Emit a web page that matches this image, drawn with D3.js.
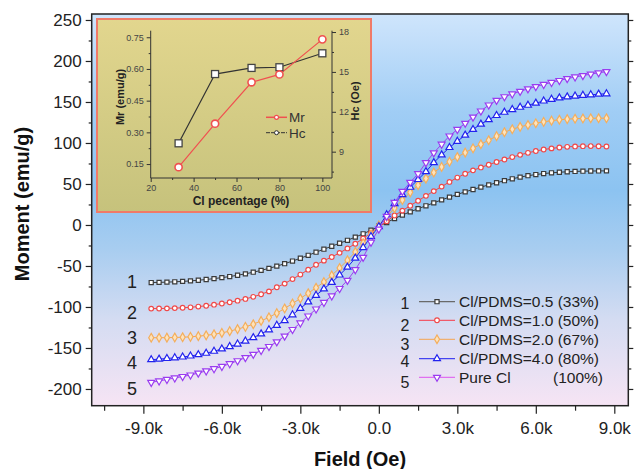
<!DOCTYPE html>
<html>
<head>
<meta charset="utf-8">
<script src="https://cdn.jsdelivr.net/npm/d3@7"></script>
<style>
body { margin: 0; background: #fff; }
svg { display: block; font-family: "Liberation Sans", Arial, sans-serif; }
</style>
</head>
<body>
<svg id="chart" width="634" height="469"></svg>
<script>
// field values (Oe) shared by all loops
var field = [-8700, -8400, -8100, -7800, -7500, -7200, -6900, -6600, -6300, -6000,
  -5700, -5400, -5100, -4800, -4500, -4200, -3900, -3600, -3300, -3000,
  -2700, -2400, -2100, -1800, -1500, -1200, -900, -600, -300, 0,
  300, 600, 900, 1200, 1500, 1800, 2100, 2400, 2700, 3000,
  3300, 3600, 3900, 4200, 4500, 4800, 5100, 5400, 5700, 6000,
  6300, 6600, 6900, 7200, 7500, 7800, 8100, 8400, 8700];

// moment (emu/g)
var m1 = [-70.2, -70.0, -69.7, -69.3, -68.8, -68.2, -67.4, -66.5, -65.4, -64.2,
  -62.9, -61.3, -59.6, -57.6, -55.4, -52.9, -50.2, -47.2, -44.0, -40.6,
  -37.0, -33.2, -29.5, -25.9, -22.3, -18.7, -14.8, -10.8, -6.4, -1.5,
  3.0, 7.8, 12.2, 16.0, 19.8, 23.4, 27.0, 30.6, 34.0, 37.3,
  40.4, 43.3, 46.2, 48.9, 51.5, 54.0, 56.3, 58.4, 60.1, 61.5,
  62.7, 63.6, 64.3, 64.9, 65.3, 65.6, 65.8, 65.9, 66.0];
var m2 = [-102.0, -101.9, -101.7, -101.4, -101.0, -100.4, -99.5, -98.5, -97.2, -95.8,
  -94.2, -92.3, -90.2, -87.6, -84.5, -81.0, -76.0, -71.5, -66.0, -60.5,
  -54.5, -48.5, -43.5, -39.0, -34.0, -28.6, -22.9, -16.5, -9.6, -3.0,
  4.5, 11.5, 17.5, 23.5, 29.5, 35.5, 41.3, 46.8, 52.5, 57.8,
  62.5, 66.6, 70.2, 73.5, 76.8, 79.9, 82.8, 85.5, 88.0, 90.2,
  92.0, 93.4, 94.5, 95.3, 95.8, 96.1, 96.2, 96.0, 95.7];
var m3 = [-137.5, -137.5, -137.4, -137.2, -136.9, -136.4, -135.6, -134.6, -133.3, -131.6,
  -129.5, -127.0, -124.2, -121.0, -117.0, -112.6, -107.5, -101.8, -95.8, -89.6,
  -83.2, -76.5, -69.6, -61.5, -52.5, -43.0, -33.0, -22.2, -11.3, -0.5,
  10.2, 20.6, 30.4, 39.8, 48.5, 56.6, 64.0, 70.8, 77.1, 82.9,
  88.3, 93.5, 98.5, 103.4, 108.3, 113.1, 116.8, 119.7, 122.0, 124.0,
  125.8, 127.2, 128.3, 129.1, 129.6, 129.9, 130.1, 130.2, 130.2];
var m4 = [-164.3, -163.6, -162.8, -162.0, -161.0, -159.8, -158.2, -156.4, -154.0, -151.2,
  -148.3, -145.2, -141.6, -137.4, -132.8, -127.8, -122.4, -116.6, -109.5, -101.8,
  -93.8, -85.8, -78.0, -70.0, -61.0, -51.5, -40.5, -27.5, -14.0, -2.0,
  12.5, 26.0, 37.0, 46.0, 55.5, 65.0, 76.0, 85.5, 94.5, 102.0,
  109.5, 116.5, 123.0, 128.5, 133.5, 137.5, 140.8, 143.6, 146.0, 148.6,
  151.2, 153.3, 155.0, 156.2, 157.2, 158.1, 158.8, 159.5, 160.0];
var m5 = [-192.0, -190.2, -188.4, -186.6, -184.8, -183.0, -180.6, -178.0, -175.3, -172.5,
  -169.2, -165.6, -161.8, -157.7, -153.0, -148.2, -142.5, -135.5, -127.5, -119.5,
  -111.0, -102.5, -94.5, -86.5, -77.5, -67.5, -54.5, -39.5, -21.0, -5.0,
  10.5, 27.5, 41.0, 52.0, 62.5, 76.0, 88.0, 98.5, 108.5, 116.5,
  124.0, 131.5, 139.0, 146.3, 152.0, 156.4, 159.8, 163.0, 166.0, 168.8,
  171.4, 173.8, 176.2, 178.5, 180.5, 182.2, 184.0, 185.6, 187.0];

var seriesNames = ["Cl/PDMS=0.5 (33%)", "Cl/PDMS=1.0 (50%)", "Cl/PDMS=2.0 (67%)", "Cl/PDMS=4.0 (80%)", "Pure Cl"];
var seriesNums = ["1", "2", "3", "4", "5"];
var xTicks = [-9000, -6000, -3000, 0, 3000, 6000, 9000];
var xMinor = [-10500, -7500, -4500, -1500, 1500, 4500, 7500];
var yTicks = [-200, -150, -100, -50, 0, 50, 100, 150, 200, 250];
var yMinor = [-175, -125, -75, -25, 25, 75, 125, 175, 225];

// inset data
var pct = [33, 50, 67, 80, 100];
var mr = [0.135, 0.341, 0.537, 0.574, 0.74];
var hc = [9.63, 14.84, 15.3, 15.35, 16.4];
var pctTicks = [20, 40, 60, 80, 100];
var mrTicks = [0.15, 0.30, 0.45, 0.60, 0.75];
var hcTicks = [9, 12, 15, 18];

var svg = d3.select("#chart");
var defs = svg.append("defs");

var L = 91.7, R = 628.3, T = 14, B = 405.7;
var x = d3.scaleLinear().domain([-10975, 9535]).range([L, R]);
var y = d3.scaleLinear().domain([-220.4, 257.3]).range([B, T]);

// plot background gradient
var bg = defs.append("linearGradient").attr("id", "bg")
  .attr("x1", 0).attr("y1", 0).attr("x2", 0).attr("y2", 1);
[[0, "#cfe5fc"], [0.25, "#a0cdf5"], [0.45, "#8cc3f1"], [0.6, "#a8cdf0"], [0.78, "#d4dcf2"], [1, "#f6e4f4"]]
  .forEach(function(s) { bg.append("stop").attr("offset", s[0]).attr("stop-color", s[1]); });
var ig = defs.append("linearGradient").attr("id", "ig")
  .attr("x1", 0).attr("y1", 0).attr("x2", 0).attr("y2", 1);
ig.append("stop").attr("offset", 0).attr("stop-color", "#e2d68e");
ig.append("stop").attr("offset", 1).attr("stop-color", "#c6c27c");

svg.append("rect").attr("x", L).attr("y", T).attr("width", R - L).attr("height", B - T)
  .attr("fill", "url(#bg)");

// axes
function styleAxis(g) {
  g.select(".domain").remove();
  g.selectAll("line").attr("stroke", "#222").attr("stroke-width", 1.2);
  g.selectAll("text").attr("fill", "#222").style("font-size", "17px");
}
var fmtK = function(v) { return v === 0 ? "0.0" : (v / 1000).toFixed(1) + "k"; };
var fmtInt = function(v) { return String(v); };

svg.append("g").attr("transform", "translate(0," + B + ")")
  .call(d3.axisBottom(x).tickValues(xTicks).tickFormat(fmtK).tickSize(8).tickPadding(8))
  .call(styleAxis);
svg.append("g").attr("transform", "translate(0," + B + ")")
  .call(d3.axisBottom(x).tickValues(xMinor).tickFormat("").tickSize(5))
  .call(styleAxis);
svg.append("g").attr("transform", "translate(" + L + ",0)")
  .call(d3.axisLeft(y).tickValues(yTicks).tickFormat(fmtInt).tickSize(6).tickPadding(4))
  .call(styleAxis);
svg.append("g").attr("transform", "translate(" + L + ",0)")
  .call(d3.axisLeft(y).tickValues(yMinor).tickFormat("").tickSize(3))
  .call(styleAxis);
svg.append("g").attr("transform", "translate(" + R + ",0)")
  .call(d3.axisRight(y).tickValues(yTicks).tickFormat("").tickSize(5))
  .call(styleAxis);
svg.append("g").attr("transform", "translate(" + R + ",0)")
  .call(d3.axisRight(y).tickValues(yMinor).tickFormat("").tickSize(3))
  .call(styleAxis);

svg.append("text").attr("x", (L + R) / 2).attr("y", 466).attr("text-anchor", "middle")
  .style("font-size", "20px").style("font-weight", "bold").attr("fill", "#111").text("Field (Oe)");
svg.append("text").attr("transform", "translate(29,204) rotate(-90)").attr("text-anchor", "middle")
  .style("font-size", "20px").style("font-weight", "bold").attr("fill", "#111").text("Moment (emu/g)");

// series
var series = [
  { v: m1, line: "#3a3a3a", stroke: "#3a3a3a", fill: "#fff", shape: "square", leg: "#6a6a6a" },
  { v: m2, line: "#f04848", stroke: "#f04848", fill: "#fff", shape: "circle", leg: "#f05a6a" },
  { v: m3, line: "#f4a850", stroke: "#f4ae5c", fill: "#fde3bd", shape: "diamond", leg: "#f0b070" },
  { v: m4, line: "#2222ee", stroke: "#2222ee", fill: "#fff", shape: "up", leg: "#4444f0" },
  { v: m5, line: "#a040f0", stroke: "#9a3cf0", fill: "#fff", shape: "down", leg: "#e070f0" }
];
var shapes = {
  square: d3.symbol().type(d3.symbolSquare).size(17),
  circle: d3.symbol().type(d3.symbolCircle).size(17),
  diamond: d3.symbol().type(d3.symbolDiamond).size(22),
  up: d3.symbol().type(d3.symbolTriangle).size(21),
  down: d3.symbol().type(d3.symbolTriangle).size(21)
};
function drawMarker(g, s, px, py) {
  g.append("path").attr("d", shapes[s.shape]())
    .attr("transform", "translate(" + px + "," + py + ")" + (s.shape === "down" ? " rotate(180)" : ""))
    .attr("fill", s.fill).attr("stroke", s.stroke).attr("stroke-width", 1.2);
}

var lineGen = d3.line().x(function(d) { return x(d[0]); }).y(function(d) { return y(d[1]); });
var plot = svg.append("g");
series.forEach(function(s) {
  var pts = field.map(function(f, i) { return [f, s.v[i]]; });
  plot.append("path").attr("d", lineGen(pts)).attr("fill", "none")
    .attr("stroke", s.line).attr("stroke-width", 1);
  var mk = plot.append("g");
  pts.forEach(function(p) { drawMarker(mk, s, x(p[0]), y(p[1])); });
});

// curve number labels at left end
var numY = [282, 313, 338, 363, 389];
seriesNums.forEach(function(n, i) {
  svg.append("text").attr("x", 132).attr("y", numY[i] + 6).attr("text-anchor", "middle")
    .style("font-size", "18px").attr("fill", "#222").text(n);
});

// legend
var legY = [301.7, 320.3, 339.3, 358.7, 377.3];
var legNumY = [303, 325, 344, 361, 382];
series.forEach(function(s, i) {
  var g = svg.append("g");
  g.append("text").attr("x", 405).attr("y", legNumY[i] + 6).attr("text-anchor", "middle")
    .style("font-size", "16px").attr("fill", "#222").text(seriesNums[i]);
  g.append("line").attr("x1", 419).attr("x2", 455).attr("y1", legY[i]).attr("y2", legY[i])
    .attr("stroke", s.leg).attr("stroke-width", 1.2);
  drawMarker(g, s, 437, legY[i]);
  g.append("text").attr("x", 459).attr("y", legY[i] + 5.5)
    .style("font-size", "15.5px").attr("fill", "#222").text(seriesNames[i]);
});
svg.append("text").attr("x", 603).attr("y", legY[4] + 5.5).attr("text-anchor", "end")
  .style("font-size", "15.5px").attr("fill", "#222").text("(100%)");

// frame
svg.append("rect").attr("x", L).attr("y", T).attr("width", R - L).attr("height", B - T)
  .attr("fill", "none").attr("stroke", "#222").attr("stroke-width", 1.5);

// inset
var inset = svg.append("g");
inset.append("rect").attr("x", 97).attr("y", 19).attr("width", 274).attr("height", 193)
  .attr("fill", "url(#ig)").attr("stroke", "#f07a68").attr("stroke-width", 2);

var iL = 150.7, iR = 332, iT = 30.7, iB = 178;
var ix = d3.scaleLinear().domain([20, 104.5]).range([iL, iR]);
var iyL = d3.scaleLinear().domain([0.084, 0.781]).range([iB, iT]);
var iyR = d3.scaleLinear().domain([7.02, 18.1]).range([iB, iT]);

function styleInset(g) {
  g.select(".domain").remove();
  g.selectAll("line").attr("stroke", "#333");
  g.selectAll("text").attr("fill", "#444").style("font-size", "9px");
}
inset.append("g").attr("transform", "translate(0," + iB + ")")
  .call(d3.axisBottom(ix).tickValues(pctTicks).tickSize(4).tickPadding(3)).call(styleInset);
inset.append("g").attr("transform", "translate(0," + iB + ")")
  .call(d3.axisBottom(ix).tickValues([30, 50, 70, 90]).tickFormat("").tickSize(2)).call(styleInset);
inset.append("g").attr("transform", "translate(" + iL + ",0)")
  .call(d3.axisLeft(iyL).tickValues(mrTicks).tickFormat(d3.format(".2f")).tickSize(4).tickPadding(3)).call(styleInset);
inset.append("g").attr("transform", "translate(" + iL + ",0)")
  .call(d3.axisLeft(iyL).tickValues([0.225, 0.375, 0.525, 0.675]).tickFormat("").tickSize(2)).call(styleInset);
inset.append("g").attr("transform", "translate(" + iR + ",0)")
  .call(d3.axisRight(iyR).tickValues(hcTicks).tickSize(4).tickPadding(3)).call(styleInset);
inset.append("g").attr("transform", "translate(" + iR + ",0)")
  .call(d3.axisRight(iyR).tickValues([7.5, 10.5, 13.5, 16.5]).tickFormat("").tickSize(2)).call(styleInset);
inset.append("path").attr("d", "M" + iL + "," + iT + "V" + iB + "H" + iR + "V" + iT)
  .attr("fill", "none").attr("stroke", "#333").attr("stroke-width", 1);

var hcLine = d3.line().x(function(d, i) { return ix(pct[i]); }).y(function(d) { return iyR(d); });
var mrLine = d3.line().x(function(d, i) { return ix(pct[i]); }).y(function(d) { return iyL(d); });
inset.append("path").attr("d", hcLine(hc)).attr("fill", "none").attr("stroke", "#333").attr("stroke-width", 1.2);
inset.append("path").attr("d", mrLine(mr)).attr("fill", "none").attr("stroke", "#f05050").attr("stroke-width", 1.2);
hc.forEach(function(d, i) {
  inset.append("rect").attr("x", ix(pct[i]) - 3.5).attr("y", iyR(d) - 3.5).attr("width", 7).attr("height", 7)
    .attr("fill", "#fff").attr("stroke", "#444").attr("stroke-width", 1.3);
});
mr.forEach(function(d, i) {
  inset.append("circle").attr("cx", ix(pct[i])).attr("cy", iyL(d)).attr("r", 3.6)
    .attr("fill", "#fff").attr("stroke", "#f05050").attr("stroke-width", 1.6);
});

// inset legend
inset.append("line").attr("x1", 266).attr("x2", 287).attr("y1", 117.3).attr("y2", 117.3)
  .attr("stroke", "#f05050").attr("stroke-width", 1.5);
inset.append("circle").attr("cx", 276.5).attr("cy", 117.3).attr("r", 2).attr("fill", "#fff")
  .attr("stroke", "#f05050").attr("stroke-width", 1.2);
inset.append("text").attr("x", 289).attr("y", 122).style("font-size", "13.5px").attr("fill", "#333").text("Mr");
inset.append("line").attr("x1", 266).attr("x2", 287).attr("y1", 132.7).attr("y2", 132.7)
  .attr("stroke", "#333").attr("stroke-width", 1).attr("stroke-dasharray", "4,1");
inset.append("circle").attr("cx", 276.5).attr("cy", 132.7).attr("r", 2).attr("fill", "#fff")
  .attr("stroke", "#333").attr("stroke-width", 1);
inset.append("text").attr("x", 289).attr("y", 137.5).style("font-size", "13.5px").attr("fill", "#333").text("Hc");

inset.append("text").attr("transform", "translate(124,97) rotate(-90)").attr("text-anchor", "middle")
  .style("font-size", "11px").style("font-weight", "bold").attr("fill", "#222").text("Mr  (emu/g)");
inset.append("text").attr("transform", "translate(359,101) rotate(-90)").attr("text-anchor", "middle")
  .style("font-size", "11px").style("font-weight", "bold").attr("fill", "#222").text("Hc  (Oe)");
inset.append("text").attr("x", 241).attr("y", 205).attr("text-anchor", "middle")
  .style("font-size", "12px").style("font-weight", "bold").attr("fill", "#222").text("Cl pecentage (%)");
</script>
</body>
</html>
